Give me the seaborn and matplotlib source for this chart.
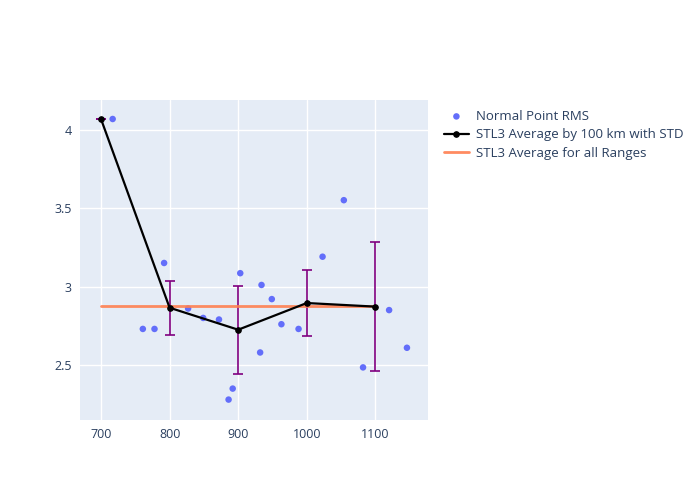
import seaborn as sns
import matplotlib.pyplot as plt
import pandas as pd
import numpy as np

# ---------------------------
# Data
# ---------------------------
point_range = [717, 761, 778, 792, 827, 849, 872, 886, 892, 903,
               934, 949, 932, 963, 988, 1023, 1054, 1082, 1120, 1146]
point_rms = [4.067, 2.73, 2.73, 3.15, 2.86, 2.80, 2.79, 2.28, 2.35, 3.085,
             3.01, 2.92, 2.58, 2.76, 2.73, 3.19, 3.55, 2.485, 2.85, 2.61]

avg_range = [700, 800, 900, 1000, 1100]
avg_rms = [4.067, 2.865, 2.725, 2.895, 2.872]
avg_std = [0.0, 0.172, 0.28, 0.21, 0.41]

overall_mean = 2.878

points = pd.DataFrame({"Range": point_range, "RMS": point_rms})
avgs = pd.DataFrame({"Range": avg_range, "RMS": avg_rms, "STD": avg_std})
overall = pd.DataFrame({"Range": [avg_range[0], avg_range[-1]],
                        "RMS": [overall_mean, overall_mean]})

# ---------------------------
# Visualization
# ---------------------------
sns.set_style("darkgrid", {"axes.facecolor": "#E5ECF6", "grid.color": "white"})
plt.rcParams["font.family"] = ["Open Sans", "DejaVu Sans"]
text_color = "#2a3f5f"

fig = plt.figure(figsize=(7, 5), dpi=100)
ax = fig.add_axes([80 / 700, 80 / 500, 348 / 700, 320 / 500])

sns.scatterplot(data=points, x="Range", y="RMS", ax=ax, color="#636efa",
                s=22, edgecolor="none", zorder=3, label="Normal Point RMS")

ax.errorbar(avgs["Range"], avgs["RMS"], yerr=avgs["STD"], fmt="none",
            ecolor="purple", elinewidth=1.2, capsize=3.5, capthick=1.2, zorder=4)

sns.lineplot(data=overall, x="Range", y="RMS", ax=ax, color="#ff7f50",
             linewidth=2, alpha=0.9, zorder=4, label="STL3 Average for all Ranges")

sns.lineplot(data=avgs, x="Range", y="RMS", ax=ax, color="black",
             linewidth=1.6, marker="o", markersize=4, markeredgecolor="black",
             zorder=5, label="STL3 Average by 100 km with STD")

ax.set_xlim(669.4, 1176.7)
ax.set_ylim(2.15, 4.188)
ax.set_xticks([700, 800, 900, 1000, 1100])
ax.set_yticks([2.5, 3, 3.5, 4])
ax.set_yticklabels(["2.5", "3", "3.5", "4"])
ax.set_xlabel("")
ax.set_ylabel("")
ax.tick_params(colors=text_color, labelsize=9, length=0, pad=6)
for s in ax.spines.values():
    s.set_visible(False)
ax.grid(color="white", linewidth=1)

handles, labels = ax.get_legend_handles_labels()
order = [0, 2, 1]
ax.legend([handles[i] for i in order], [labels[i] for i in order],
          loc="upper left", bbox_to_anchor=(432 / 700, 1 - 98 / 500),
          bbox_transform=fig.transFigure, frameon=False, fontsize=9.5,
          labelcolor=text_color, handlelength=1.9, handletextpad=0.5,
          labelspacing=0.42)

plt.savefig("out.png", dpi=100)
plt.close()
